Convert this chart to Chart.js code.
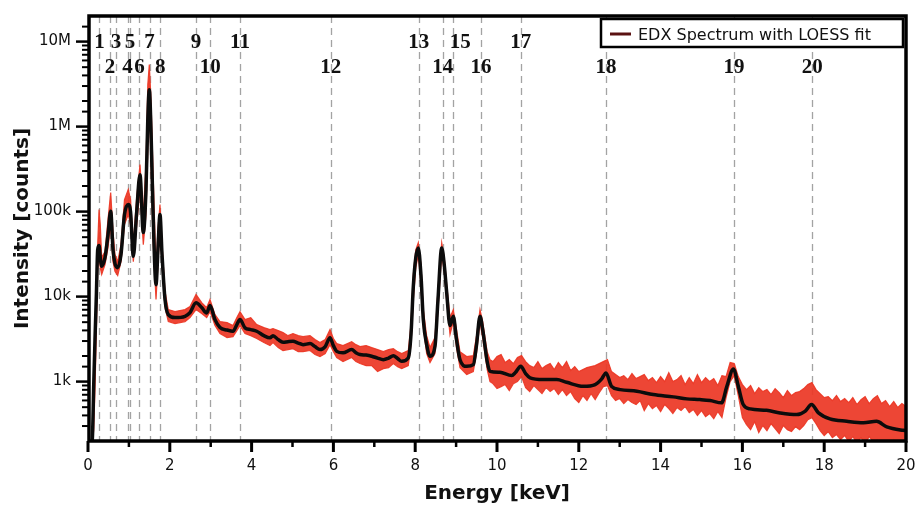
<!DOCTYPE html>
<html><head><meta charset="utf-8">
<script src="https://cdn.jsdelivr.net/npm/chart.js@4.4.1/dist/chart.umd.min.js"></script>
<style>html,body{margin:0;padding:0;background:#fff;}canvas{display:block}</style>
</head><body>
<canvas id="c" width="917" height="509"></canvas>
<script>
// ---------------- DATA ----------------
const fitEnergy = [0.06,0.105,0.14,0.171,0.205,0.237,0.27,0.30,0.335,0.416,
0.489,0.555,0.611,0.66,0.726,0.807,0.892,0.985,1.04,1.108,
1.186,1.271,1.352,1.418,1.462,1.499,1.54,1.589,1.663,1.71,
1.76,1.81,1.883,1.963,2.127,2.372,2.494,2.641,2.78,2.902,
2.983,3.105,3.227,3.4,3.545,3.64,3.716,3.839,3.98,4.125,
4.3,4.45,4.523,4.65,4.768,4.89,5.012,5.14,5.257,5.428,
5.55,5.672,5.8,5.917,6.0,6.081,6.235,6.447,6.55,6.65,
6.8,6.936,7.08,7.22,7.35,7.465,7.57,7.67,7.831,7.897,
7.954,8.015,8.076,8.14,8.198,8.28,8.362,8.484,8.557,8.648,
8.71,8.77,8.851,8.932,9.01,9.095,9.259,9.421,9.5,9.584,
9.65,9.707,9.76,9.829,
10.07,10.36,10.45,10.58,10.7,10.81,11.13,11.46,11.70,12.11,
12.40,12.56,12.665,12.80,13.01,13.42,13.82,14.31,14.64,14.96,
15.21,15.49,15.62,15.78,15.90,16.02,16.19,16.59,16.92,17.33,
17.53,17.69,17.86,18.14,18.55,18.96,19.28,19.53,19.93,20.0];

const fitCounts = [180,208,922,3120,10600,35700,39800,28800,22700,28800,
53600,101000,35700,24400,21900,31200,92200,121000,100000,29800,
92200,272000,56600,182000,1210000,2720000,922000,106000,13800,35700,
92200,31200,9220,6140,5660,5870,6480,8440,7430,6430,
7830,5360,4320,4040,3910,4690,5360,4290,4090,3910,
3470,3270,3470,3120,2900,2950,2980,2840,2720,2800,
2580,2380,2580,3270,2650,2270,2180,2380,2190,2080,
2050,1990,1890,1810,1890,2020,1870,1730,1900,3570,
13200,28800,37400,18200,5360,2720,1990,2600,9220,37400,
23800,11100,4560,5870,3120,1810,1510,1580,2720,5870,
4090,2600,1720,1320,
1286,1176,1276,1513,1242,1105,1056,1056,981,880,
922,1076,1266,880,805,769,703,661,626,614,
598,562,880,1410,880,537,477,460,428,409,
447,537,428,364,341,327,341,293,267,265];

const rawEnergy = [0.06,0.105,0.14,0.171,0.205,0.237,0.27,0.30,0.335,0.416,
0.489,0.555,0.611,0.66,0.726,0.807,0.892,0.985,1.04,1.108,
1.186,1.271,1.352,1.418,1.462,1.499,1.54,1.589,1.663,1.71,
1.76,1.81,1.883,1.963,2.127,2.372,2.494,2.641,2.78,2.902,
2.983,3.105,3.227,3.4,3.545,3.64,3.716,3.839,3.98,4.125,
4.3,4.45,4.523,4.65,4.768,4.89,5.012,5.14,5.257,5.428,
5.55,5.672,5.8,5.917,6.0,6.081,6.235,6.447,6.55,6.65,
6.8,6.936,7.08,7.22,7.35,7.465,7.57,7.67,7.831,7.897,
7.954,8.015,8.076,8.14,8.198,8.28,8.362,8.484,8.557,8.648,
8.71,8.77,8.851,8.932,9.01,9.095,9.259,9.421,9.5,9.584,
9.65,9.707,9.76,9.829,
9.9,10.0,10.1,10.2,10.3,10.4,10.5,10.6,10.7,10.8,
10.9,11.0,11.1,11.2,11.3,11.4,11.5,11.6,11.7,11.8,
11.9,12.0,12.1,12.2,12.3,12.4,12.5,12.6,12.7,12.8,
12.9,13.0,13.1,13.2,13.3,13.4,13.5,13.6,13.7,13.8,
13.9,14.0,14.1,14.2,14.3,14.4,14.5,14.6,14.7,14.8,
14.9,15.0,15.1,15.2,15.3,15.4,15.5,15.6,15.7,15.8,
15.9,16.0,16.1,16.2,16.3,16.4,16.5,16.6,16.7,16.8,
16.9,17.0,17.1,17.2,17.3,17.4,17.5,17.6,17.7,17.8,
17.9,18.0,18.1,18.2,18.3,18.4,18.5,18.6,18.7,18.8,
18.9,19.0,19.1,19.2,19.3,19.4,19.5,19.6,19.7,19.8,
19.9,20.0];

const rawHigh = [180,208,1050,3500,12000,40900,106000,70300,28800,33800,
80500,167000,58200,31200,25800,40900,138000,182000,138000,40900,
138000,357000,92200,357000,3120000,5360000,2080000,312000,20800,61400,
121000,40900,11500,7030,6660,7030,7630,10600,8500,7430,
9220,6140,5080,4940,4560,5660,6660,5360,5660,4690,
4320,4090,4200,3980,3770,3470,3670,3470,3380,3470,
3120,2880,3120,4090,3210,2800,2650,2950,2720,2580,
2650,2510,2380,2250,2380,2440,2250,2140,2320,4690,
18200,35700,43200,23800,7030,3470,2510,3300,12100,43200,
28800,13800,5660,7030,4090,2250,1970,2020,3470,7030,
5080,3300,2250,1810,
1719,1968,2078,1673,1815,1628,1916,2022,1719,1543,
1461,1719,1422,1543,1628,1384,1673,1461,1719,1347,
1501,1311,1384,1461,1501,1543,1628,1719,1815,1311,
1209,1115,1176,1056,1242,1085,1145,1209,1028,1115,
973,1145,1000,1276,1000,1056,1176,922,1115,947,
1209,973,1115,1000,1085,897,1176,1145,1673,1628,
1145,922,805,897,722,850,763,805,703,827,
742,648,784,684,742,763,827,922,973,805,
722,648,666,598,684,582,631,566,648,537,
614,666,551,631,684,551,598,508,582,495,
551,508];

const rawLow = [180,180,272,805,4090,20800,31200,21900,18200,23800,
37700,70300,25800,19700,17700,25800,70300,92200,70300,25800,
64900,182000,40900,92200,536000,1820000,409000,46900,9220,23800,
70300,23800,7430,5080,4810,5080,5660,7030,6310,5660,
6660,4560,3670,3300,3380,3980,4560,3670,3470,3210,
2880,2650,2880,2510,2320,2380,2440,2250,2250,2320,
2080,1970,2130,2720,2250,1920,1720,1920,1720,1630,
1540,1540,1310,1420,1460,1630,1500,1420,1540,2720,
9220,21900,31200,13800,4320,2130,1670,2130,7030,31200,
19700,8730,3570,5080,2510,1460,1210,1310,2190,4940,
3300,2080,1380,1000,
947,827,873,922,784,947,1000,1145,850,763,
897,805,722,850,763,827,703,805,684,763,
631,566,684,598,722,614,742,873,897,684,
598,631,551,614,566,537,598,456,551,481,
522,444,537,481,420,495,456,508,432,469,
398,456,387,420,367,444,377,648,1000,1176,
684,377,312,272,338,251,304,265,320,280,
244,304,272,258,295,272,304,357,377,320,
265,232,258,219,238,208,232,197,225,192,
219,187,225,197,208,182,202,177,208,172,
187,182];

const peakEnergy = [0.281,0.538,0.685,0.966,1.027,1.259,1.504,1.768,2.641,2.990,
3.716,5.934,8.086,8.672,8.932,9.609,10.579,12.665,15.795,17.709];
const peakLabels = ['1','2','3','4','5','6','7','8','9','10',
'11','12','13','14','15','16','17','18','19','20'];
const peakRow = [1,2,1,2,1,2,1,2,1,2,1,2,1,2,1,2,1,2,2,2];

const xTickValues = [0,2,4,6,8,10,12,14,16,18,20];
const yTickValues = [1e3,1e4,1e5,1e6,1e7];
const yTickLabels = ['1k','10k','100k','1M','10M'];

const legendText = 'EDX Spectrum with LOESS fit';
const xTitle = 'Energy [keV]';
const yTitle = 'Intensity [counts]';

// ---------------- STYLE ----------------
const RED = 'rgba(236,56,38,0.93)';
const FIT = '#0c0c0c';
Chart.defaults.font.family = "'DejaVu Sans', 'Liberation Sans', sans-serif";
Chart.defaults.color = '#111';

const toXY = (xs, ys) => xs.map((x, i) => ({x: x, y: ys[i]}));

const decor = {
  id: 'decor',
  beforeDatasetsDraw(chart) {
    const {ctx, chartArea: a, scales: {x}} = chart;
    ctx.save();
    ctx.beginPath(); ctx.rect(a.left, a.top, a.right - a.left, a.bottom - a.top); ctx.clip();
    ctx.strokeStyle = '#a3a3a3'; ctx.lineWidth = 1.3; ctx.setLineDash([7, 5]);
    peakEnergy.forEach(e => {
      const px = Math.round(x.getPixelForValue(e)) + 0.5;
      ctx.beginPath(); ctx.moveTo(px, a.top); ctx.lineTo(px, a.bottom); ctx.stroke();
    });
    ctx.restore();
  },
  afterDraw(chart) {
    const {ctx, chartArea: a, scales: {x, y}} = chart;
    ctx.save();
    // peak labels
    ctx.font = "bold 21px 'Liberation Serif', 'DejaVu Serif', serif";
    ctx.fillStyle = '#111'; ctx.textAlign = 'center'; ctx.textBaseline = 'alphabetic';
    peakEnergy.forEach((e, i) => {
      const px = x.getPixelForValue(e) + (i === 14 ? 7 : 0);
      const py = peakRow[i] === 1 ? a.top + 32 : a.top + 57;
      ctx.fillText(peakLabels[i], px, py);
    });
    // frame
    ctx.strokeStyle = '#000'; ctx.lineWidth = 3.5; ctx.setLineDash([]);
    ctx.strokeRect(a.left + 1, a.top, a.right - a.left - 1, a.bottom - a.top);
    // y ticks
    y.ticks.forEach(t => {
      const v = t.value;
      if (v <= y.min * 1.0001 || v >= y.max * 0.9999) return;
      const py = y.getPixelForValue(v);
      const major = yTickValues.some(m => Math.abs(v / m - 1) < 1e-6);
      ctx.lineWidth = major ? 2.5 : 2;
      ctx.beginPath(); ctx.moveTo(a.left - (major ? 12 : 6), py); ctx.lineTo(a.left, py); ctx.stroke();
    });
    // x ticks
    x.ticks.forEach(t => {
      const px = x.getPixelForValue(t.value);
      const major = xTickValues.includes(t.value);
      ctx.lineWidth = major ? 3 : 2.5;
      ctx.beginPath(); ctx.moveTo(px, a.bottom); ctx.lineTo(px, a.bottom + (major ? 11 : 6)); ctx.stroke();
    });
    // legend
    const lw = 302, lh = 28, lx = a.right - 3 - lw, ly = a.top + 3;
    ctx.fillStyle = '#fff'; ctx.fillRect(lx, ly, lw, lh);
    ctx.lineWidth = 2.5; ctx.strokeStyle = '#000'; ctx.strokeRect(lx, ly, lw, lh);
    ctx.strokeStyle = '#5a1212'; ctx.lineWidth = 3;
    ctx.beginPath(); ctx.moveTo(lx + 9, ly + 15); ctx.lineTo(lx + 30, ly + 15); ctx.stroke();
    ctx.fillStyle = '#111'; ctx.font = "16px 'DejaVu Sans', sans-serif"; ctx.textAlign = 'left';
    ctx.fillText(legendText, lx + 37, ly + 20.5);
    ctx.restore();
  }
};

new Chart(document.getElementById('c'), {
  type: 'line',
  data: {
    datasets: [
      {label: 'fit', data: toXY(fitEnergy, fitCounts), borderColor: FIT, borderWidth: 3.5,
       pointRadius: 0, fill: false, cubicInterpolationMode: 'monotone', order: 0,
       borderJoinStyle: 'round', borderCapStyle: 'round'},
      {label: 'rawHigh', data: toXY(rawEnergy, rawHigh), borderColor: RED, borderWidth: 1.2,
       pointRadius: 0, fill: '+1', backgroundColor: RED, tension: 0, order: 1},
      {label: 'rawLow', data: toXY(rawEnergy, rawLow), borderColor: RED, borderWidth: 1.2,
       pointRadius: 0, fill: false, tension: 0, order: 2}
    ]
  },
  options: {
    responsive: false, animation: false, devicePixelRatio: 1,
    layout: {padding: {left: 0, right: 11, top: 16, bottom: 0}},
    plugins: {legend: {display: false}, tooltip: {enabled: false}},
    scales: {
      x: {
        type: 'linear', min: 0, max: 20,
        grid: {display: false, drawTicks: false}, border: {display: false},
        ticks: {stepSize: 1, autoSkip: false, maxRotation: 0, padding: 16,
          font: {size: 15}, color: '#111',
          callback: v => xTickValues.includes(v) ? String(v) : ''},
        title: {display: true, text: xTitle, font: {size: 20, weight: 'bold'}, color: '#111',
          padding: {top: 0, bottom: 3}},
        afterFit: s => { s.height = 68; s.paddingLeft = 0; s.paddingRight = 0; }
      },
      y: {
        type: 'logarithmic', min: 200, max: 2e7,
        grid: {display: false, drawTicks: false}, border: {display: false},
        ticks: {autoSkip: false, padding: 17, font: {size: 15}, color: '#111',
          callback: v => {
            const i = yTickValues.findIndex(m => Math.abs(v / m - 1) < 1e-6);
            return i >= 0 ? yTickLabels[i] : '';
          }},
        title: {display: true, text: yTitle, font: {size: 20, weight: 'bold'}, color: '#111',
          padding: {top: 11, bottom: 0}},
        afterFit: s => { s.width = 88; s.paddingTop = 0; s.paddingBottom = 0; }
      }
    }
  },
  plugins: [decor]
});
</script>
</body></html>
